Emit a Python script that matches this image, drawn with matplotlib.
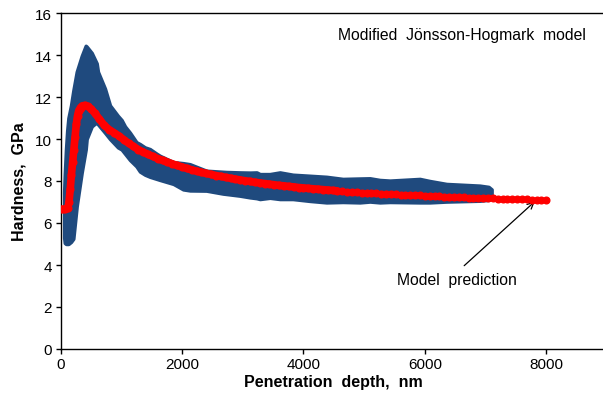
import matplotlib
import matplotlib.pyplot as plt
import numpy as np

matplotlib.use("Agg")

plt.rcParams["font.family"] = ["Liberation Sans", "DejaVu Sans"]
plt.rcParams["font.size"] = 11

# measured hardness band (outer envelope of the scattered test data)
band_depth = [60, 70, 90, 110, 130, 173, 211, 267, 349, 415, 431, 514, 596, 617,
              732, 815, 946, 1007, 1062, 1144, 1250, 1308, 1391, 1473, 1583, 1638,
              1860, 2020, 2131, 2403, 2674, 2732, 2955, 3120, 3230, 3284, 3448,
              3613, 3827, 4107, 4381, 4650, 4930, 5095, 5259, 5424, 5918, 6082,
              6357, 6905, 7050, 7100]
band_lower = [5.3, 5.05, 5.0, 5.0, 5.0, 5.1, 5.25, 6.8, 8.4, 9.5, 10.0, 10.6, 10.8, 10.7,
              10.3, 10.0, 9.6, 9.5, 9.3, 9.0, 8.7, 8.45, 8.3, 8.2, 8.1, 8.05,
              7.86, 7.6, 7.55, 7.54, 7.4, 7.38, 7.3, 7.22, 7.18, 7.14, 7.2,
              7.14, 7.14, 7.05, 6.98, 7.0, 6.98, 7.02, 6.98, 7.0, 6.98, 6.98,
              7.02, 7.06, 7.1, 7.2]
band_upper = [7.5, 8.3, 9.5, 10.4, 11.0, 11.6, 12.3, 13.2, 13.95, 14.44, 14.4, 14.1, 13.6, 13.2,
              12.4, 11.6, 11.1, 10.9, 10.6, 10.3, 9.85, 9.76, 9.6, 9.52, 9.3, 9.2,
              8.9, 8.85, 8.8, 8.49, 8.44, 8.43, 8.41, 8.4, 8.41, 8.33, 8.33,
              8.41, 8.3, 8.25, 8.2, 8.1, 8.12, 8.13, 8.05, 8.02, 8.1, 8.0,
              7.86, 7.78, 7.72, 7.6]

# modified Jonsson-Hogmark model curve
model_depth = [0, 40, 80, 120, 140, 160, 180, 200, 220, 240, 260, 280, 300, 330,
               360, 400, 450, 500, 560] + list(range(640, 8001, 80))
model_hardness = [6.65, 6.65, 6.65, 6.7, 7.0, 7.6, 8.3, 8.9, 9.5, 10.1, 10.7, 11.1, 11.35, 11.5,
                  11.58, 11.6, 11.55, 11.45, 11.25,
                  10.95, 10.65, 10.45, 10.3, 10.15, 9.97, 9.8, 9.65, 9.5, 9.38,
                  9.27, 9.17, 9.07, 8.98, 8.9, 8.82, 8.74, 8.67, 8.6, 8.53,
                  8.47, 8.41, 8.36, 8.31, 8.26, 8.22, 8.17, 8.13, 8.09, 8.05,
                  8.01, 7.98, 7.94, 7.91, 7.88, 7.85, 7.82, 7.79, 7.77, 7.74,
                  7.72, 7.69, 7.67, 7.65, 7.63, 7.61, 7.59, 7.57, 7.55, 7.53,
                  7.52, 7.50, 7.48, 7.47, 7.45, 7.44, 7.42, 7.41, 7.40, 7.38,
                  7.37, 7.36, 7.35, 7.34, 7.33, 7.32, 7.31, 7.30, 7.29, 7.28,
                  7.27, 7.26, 7.25, 7.24, 7.23, 7.22, 7.21, 7.20, 7.19, 7.19,
                  7.18, 7.17, 7.16, 7.15, 7.15, 7.14, 7.13, 7.12, 7.12, 7.11,
                  7.10, 7.10, 7.09]

BLUE = "#1F4A7E"
RED = "#FF0000"

fig = plt.figure(figsize=(6.03, 4.02), dpi=100)
ax = fig.add_axes([60.5 / 603, 52 / 402, 546.5 / 603, 336 / 402])

ax.fill_between(band_depth, band_lower, band_upper, color=BLUE, lw=2.5,
                edgecolor=BLUE, joinstyle="round", zorder=2)

md = np.array(model_depth)
mh = np.array(model_hardness)
thick = md <= 4600
ax.plot(md[thick], mh[thick], color=RED, lw=5.5, solid_capstyle="round",
        solid_joinstyle="round", zorder=3)
ax.plot(md, mh, "o", color=RED, ms=4.8, mec=RED, zorder=4)
ax.plot(md[md <= band_depth[-1]], mh[md <= band_depth[-1]], color=RED, lw=2.5, zorder=3)

ax.set_xlim(0, 9000)
ax.set_ylim(0, 16)
ax.set_xticks([0, 2000, 4000, 6000, 8000])
ax.set_yticks(range(0, 17, 2))
ax.tick_params(direction="out", length=3.6, width=1, pad=2.5, labelsize=11)
for s in ax.spines.values():
    s.set_linewidth(1.0)
ax.spines["right"].set_visible(False)

ax.set_xlabel("Penetration  depth,  nm", fontweight="bold", fontsize=11.5, labelpad=2)
ax.set_ylabel("Hardness,  GPa", fontweight="bold", fontsize=11.5, labelpad=6)

ax.text(0.962, 0.958, "Modified  Jönsson-Hogmark  model", transform=ax.transAxes,
        ha="right", va="top", fontsize=11.3)
ax.annotate("Model  prediction", xy=(7810, 7.02), xytext=(6530, 3.3),
            ha="center", va="center", fontsize=11.3,
            arrowprops=dict(arrowstyle="->", color="black", lw=0.9,
                            relpos=(0.5, 1.0), shrinkA=4, shrinkB=0))

fig.savefig("out.png", dpi=100)
